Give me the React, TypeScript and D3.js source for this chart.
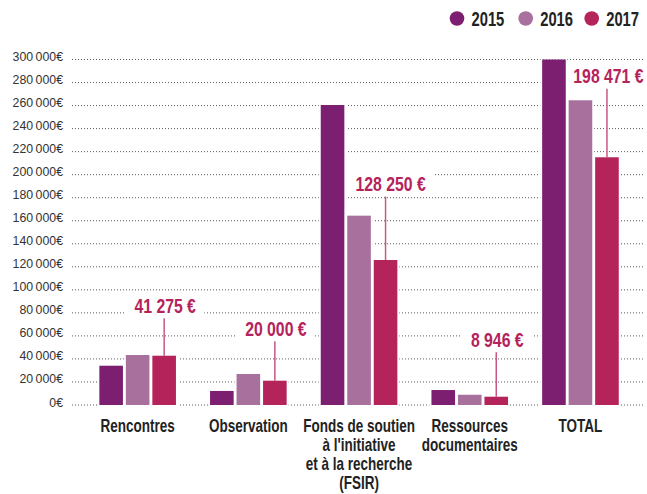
import React from "react";
import * as d3 from "d3";

const categories = ["Rencontres", "Observation", "Fonds de soutien|à l'initiative|et à la recherche|(FSIR)", "Ressources|documentaires", "TOTAL"];
const years = ["2015", "2016", "2017"];
const values2015 = [34100, 12200, 260500, 13000, 300000];
const values2016 = [43400, 26900, 164400, 8900, 264600];
const values2017 = [42800, 21100, 125900, 7200, 215100];
const annotations2017 = ["41 275 €", "20 000 €", "128 250 €", "8 946 €", "198 471 €"];
const yTicks = [0, 20000, 40000, 60000, 80000, 100000, 120000, 140000, 160000, 180000, 200000, 220000, 240000, 260000, 280000, 300000];

const colors = ["#7d1f70", "#a7709d", "#b4235a"];
const annColor = "#b5235b";
const leaderColor = "#c65886";
// layout: label centre height above 2017 bar top (px), and x shift
const labelLift = [50, 52, 76, 57, 81];
const labelShift = [1, 1, 5, 1, 1.5];

const W = 647, H = 494;
const FONT = "'Liberation Sans', Arial, sans-serif";

function fmtTick(v: number) {
  if (v === 0) return "0€";
  const s = String(v);
  return s.slice(0, s.length - 3) + "\u2009" + s.slice(s.length - 3) + "€";
}

export default function App() {
  const x = d3.scaleBand<string>().domain(categories).range([82.3, 635.8]).paddingInner(0.308).paddingOuter(0.154);
  const xi = d3.scaleBand<string>().domain(years).range([0, x.bandwidth()]).paddingInner(0.11).paddingOuter(0);
  const y = d3.scaleLinear().domain([0, 300000]).range([405, 59.5]);
  const series = [values2015, values2016, values2017];

  const ann = categories.map((c, ci) => {
    const v = values2017[ci];
    const cx = x(c)! + xi("2017")! + xi.bandwidth() / 2;
    const top = y(v);
    const ly = top - labelLift[ci];
    const tx = cx + labelShift[ci];
    const w = annotations2017[ci].length * 7.8;
    return { c, ci, cx, top, ly, tx, w };
  });

  return (
    <svg width={W} height={H} style={{ position: "absolute", left: 0, top: 0, background: "#fff" }}>
      <rect width={W} height={H} fill="#fff" />
      {/* gridlines */}
      {yTicks.map((t) => (
        <g key={t}>
          <line x1={72} x2={643} y1={y(t)} y2={y(t)} stroke="#5a5a5a" strokeWidth={1} strokeDasharray="1,2" />
          <text transform={`translate(63,${y(t) + 1.5}) scale(0.95,1)`} textAnchor="end" fontFamily={FONT} fontSize={13} fill="#333">
            {fmtTick(t)}
          </text>
        </g>
      ))}
      {/* knock-outs behind annotation labels */}
      {ann.map((a) => (
        <rect key={"k" + a.c} x={a.tx - a.w / 2 - 8} y={a.ly - 11} width={a.w + 16} height={22} fill="#fff" />
      ))}
      {/* bars */}
      {categories.map((c, ci) => (
        <g key={c} transform={`translate(${x(c)},0)`}>
          {years.map((yr, si) => {
            const v = series[si][ci];
            const bx = xi(yr)!;
            return (
              <g key={yr}>
                <rect x={bx - 2} y={y(v)} width={xi.bandwidth() + 4} height={y(0) - y(v) + 1} fill="#fff" />
                <rect x={bx} y={y(v)} width={xi.bandwidth()} height={y(0) - y(v)} fill={colors[si]} />
              </g>
            );
          })}
        </g>
      ))}
      {/* annotations */}
      {ann.map((a) => (
        <g key={"a" + a.c}>
          <line x1={a.cx} x2={a.cx} y1={a.ly + 12.5} y2={a.top} stroke={leaderColor} strokeWidth={1.5} />
          <text transform={`translate(${a.tx},${a.ly + 7}) scale(0.81,1)`} textAnchor="middle" fontFamily={FONT} fontWeight="bold" fontSize={19.5} fill={annColor}>
            {annotations2017[a.ci]}
          </text>
        </g>
      ))}
      {/* category labels */}
      {categories.map((c) => {
        const cx = x(c)! + x.bandwidth() / 2;
        return c.split("|").map((line, li) => (
          <text key={c + li} transform={`translate(${cx},${432 + li * 18.9}) scale(0.75,1)`} textAnchor="middle" fontFamily={FONT} fontWeight="bold" fontSize={18} fill="#222">
            {line}
          </text>
        ));
      })}
      {/* legend */}
      {years.map((yr, i) => {
        const lx = [457, 525.7, 591.7][i];
        return (
          <g key={"l" + yr}>
            <circle cx={lx} cy={18.5} r={7.3} fill={colors[i]} />
            <text transform={`translate(${lx + 14.5},26) scale(0.72,1)`} fontFamily={FONT} fontWeight="bold" fontSize={20.5} fill="#222">
              {yr}
            </text>
          </g>
        );
      })}
    </svg>
  );
}
